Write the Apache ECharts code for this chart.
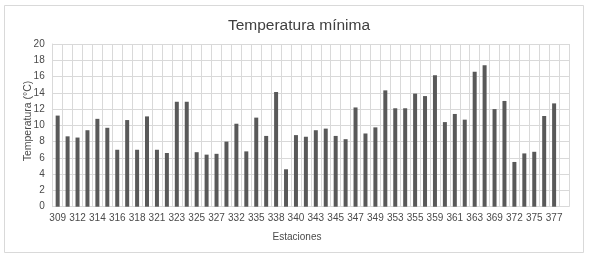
<!DOCTYPE html>
<html>
<head>
<meta charset="utf-8">
<script src="https://cdn.jsdelivr.net/npm/echarts@6/dist/echarts.min.js"></script>
<style>html,body{margin:0;padding:0;background:#fff;}#c{width:589px;height:259px;}</style>
</head>
<body>
<div id="c"></div>
<script>
var stations = ['309','311','312','313','314','315','316','317','318','320','321','322','323','324','325','326','327','330','332','334','335','337','338','339','340','342','343','344','345','346','347','348','349','351','353','354','355','357','359','360','361','362','363','366','369','371','372','374','375','376','377',''];
var tempMin = [11.2,8.65,8.5,9.4,10.8,9.7,7.0,10.65,7.0,11.1,7.0,6.6,12.9,12.9,6.7,6.4,6.5,8.0,10.2,6.8,10.95,8.7,14.1,4.6,8.8,8.6,9.4,9.6,8.7,8.3,12.2,9.0,9.75,14.3,12.1,12.1,13.9,13.6,16.15,10.4,11.4,10.7,16.6,17.4,12.0,13.0,5.5,6.55,6.75,11.15,12.7,null];
var yTicks = {min: 0, max: 20, interval: 2};

var chart = echarts.init(document.getElementById('c'), null, {renderer: 'canvas'});
var font = 'Liberation Sans, Arial, sans-serif';
chart.setOption({
  animation: false,
  backgroundColor: '#fff',
  title: {
    text: 'Temperatura mínima',
    left: 294, top: 13, textAlign: 'center',
    textStyle: {fontFamily: font, fontSize: 15.5, fontWeight: 'normal', color: '#404040'}
  },
  graphic: [
    {type: 'rect', shape: {x: 4.5, y: 5.5, width: 579, height: 247}, style: {fill: 'none', stroke: '#d9d9d9', lineWidth: 1}, z: -1},
    {type: 'text', x: 297, y: 237, style: {text: 'Estaciones', font: '10px ' + font, fill: '#4a4a4a', textAlign: 'center', textVerticalAlign: 'middle'}},
    {type: 'text', x: 28, y: 121, rotation: Math.PI / 2, style: {text: 'Temperatura (°C)', font: '10.5px ' + font, fill: '#4a4a4a', textAlign: 'center', textVerticalAlign: 'middle'}}
  ],
  grid: {left: 52.7, right: 20, top: 44, bottom: 52.3, containLabel: false},
  xAxis: {
    type: 'category',
    data: stations,
    boundaryGap: true,
    axisLine: {show: true, lineStyle: {color: '#d9d9d9'}},
    axisTick: {show: false},
    axisLabel: {interval: 1, fontFamily: font, fontSize: 10, color: '#4a4a4a', margin: 7},
    splitLine: {show: true, interval: 0, lineStyle: {color: '#d9d9d9', width: 1}}
  },
  yAxis: {
    type: 'value',
    min: yTicks.min, max: yTicks.max, interval: yTicks.interval,
    axisLine: {show: true, lineStyle: {color: '#d9d9d9'}},
    axisTick: {show: false},
    axisLabel: {fontFamily: font, fontSize: 10, color: '#4a4a4a', margin: 8},
    splitLine: {show: true, lineStyle: {color: '#d9d9d9', width: 1}}
  },
  series: [{
    type: 'bar',
    data: tempMin,
    barWidth: 4,
    itemStyle: {color: '#595959'}
  }]
});
</script>
</body>
</html>
